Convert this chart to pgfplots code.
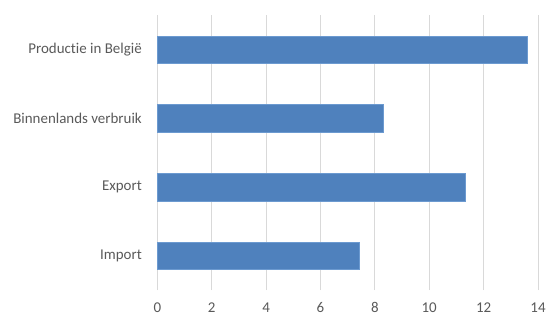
\documentclass[border=0pt]{standalone}
\usepackage{fontspec}
\setmainfont{Carlito}[Ligatures=NoCommon]
\usepackage{pgfplots}
\pgfplotsset{compat=1.18}
\definecolor{barblue}{HTML}{4F81BD}
\definecolor{baredge}{HTML}{6C9AD0}
\definecolor{gridgray}{HTML}{D9D9D9}
\definecolor{textgray}{HTML}{595959}
\begin{document}
\begin{tikzpicture}[x=1bp,y=1bp]
\path[use as bounding box] (0,0) rectangle (547,316);
\begin{axis}[
  at={(157.3bp,25.8bp)}, anchor=south west,
  scale only axis,
  width=380.7bp, height=274.8bp,
  xmin=0, xmax=14,
  ymin=-0.5, ymax=3.5,
  xtick={0,2,...,14},
  ytick={0,1,2,3},
  yticklabels={Import,Export,Binnenlands verbruik,Productie in België},
  xmajorgrids,
  grid style={gridgray, line width=0.8pt},
  axis line style={draw=none},
  major tick length=0pt,
  tick style={draw=none},
  ticklabel style={font=\fontsize{15}{17}\selectfont, text=textgray},
  /pgf/number format/assume math mode=true,
  xticklabel style={yshift=-9bp},
  yticklabel style={xshift=-12bp},
  xbar, bar width=0.4,
  clip=false,
]
\addplot[fill=barblue, draw=baredge, line width=0.6pt] coordinates {
  (7.42,0) (11.32,1) (8.32,2) (13.62,3)
};
\end{axis}
\end{tikzpicture}
\end{document}
